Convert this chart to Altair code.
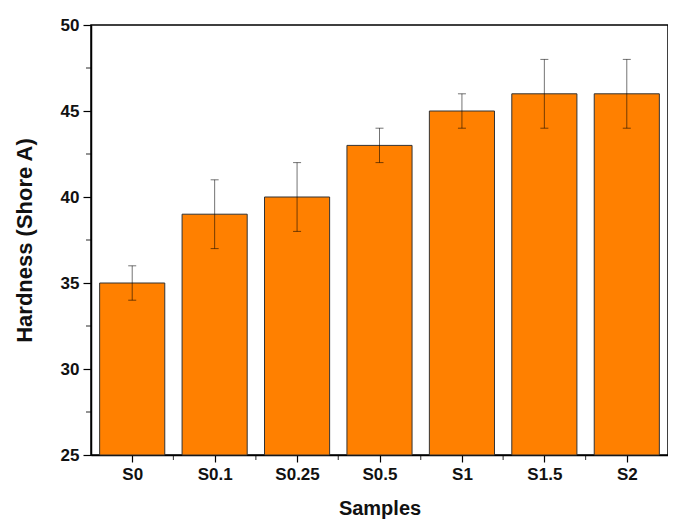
import altair as alt
import pandas as pd

samples = ["S0", "S0.1", "S0.25", "S0.5", "S1", "S1.5", "S2"]
hardness = [35, 39, 40, 43, 45, 46, 46]
errors = [1, 2, 2, 1, 1, 2, 2]
y_major = [25, 30, 35, 40, 45, 50]
y_minor = [27.5, 32.5, 37.5, 42.5, 47.5]

idx = list(range(len(samples)))
df = pd.DataFrame({"i": idx, "sample": samples, "h": hardness, "e": errors})
df_minor_y = pd.DataFrame({"my": y_minor})
df_minor_x = pd.DataFrame({"mx": [i + 0.5 for i in idx[:-1]]})

FONT = "Liberation Sans"
HALF = 0.395

label_expr = "[" + ",".join(f"'{s}'" for s in samples) + "][datum.value]"

xscale = alt.Scale(domain=[-0.5, len(samples) - 0.5], nice=False, zero=False)
yscale = alt.Scale(domain=[25, 50], nice=False, zero=False)

xaxis = alt.Axis(values=idx, labelExpr=label_expr, title="Samples", grid=False,
                 tickSize=7, tickColor="black", tickWidth=1.2, domainColor="black", domainWidth=1.5,
                 labelFont=FONT, labelFontSize=17, labelFontWeight="bold", labelColor="#111",
                 labelPadding=4, titleFont=FONT, titleFontSize=20, titleFontWeight="bold",
                 titleColor="#111", titlePadding=16)
yaxis = alt.Axis(values=y_major, title="Hardness (Shore A)", grid=False,
                 tickSize=8, tickColor="black", tickWidth=1.2, domainColor="black", domainWidth=1.5,
                 labelFont=FONT, labelFontSize=17, labelFontWeight="bold", labelColor="#111",
                 labelPadding=4, titleFont=FONT, titleFontSize=22, titleFontWeight="bold",
                 titleColor="#111", titlePadding=24)

base = alt.Chart(df)

bars = base.transform_calculate(
    x1=f"datum.i - {HALF}", x2=f"datum.i + {HALF}", y0="25"
).mark_bar(color="#FF8000", stroke="#333333", strokeWidth=1).encode(
    x=alt.X("x1:Q", scale=xscale, axis=xaxis),
    x2="x2:Q",
    y=alt.Y("h:Q", scale=yscale, axis=yaxis),
    y2="y0:Q",
)

err = base.transform_calculate(lo="datum.h - datum.e", hi="datum.h + datum.e").mark_rule(
    color="black", opacity=0.55, strokeWidth=1
).encode(x="i:Q", y="lo:Q", y2="hi:Q")

cap_hi = base.transform_calculate(hi="datum.h + datum.e").mark_tick(
    color="black", opacity=0.55, thickness=1, size=8, orient="horizontal"
).encode(x="i:Q", y="hi:Q")
cap_lo = base.transform_calculate(lo="datum.h - datum.e").mark_tick(
    color="black", opacity=0.55, thickness=1, size=8, orient="horizontal"
).encode(x="i:Q", y="lo:Q")

minor_y = alt.Chart(df_minor_y).mark_tick(
    color="black", thickness=1.2, size=5, orient="horizontal"
).encode(y="my:Q", x=alt.value(-2.5))
minor_x = alt.Chart(df_minor_x).mark_tick(
    color="black", thickness=1.2, size=5, orient="vertical"
).encode(x="mx:Q", y=alt.value(432.5))

chart = alt.layer(bars, err, cap_hi, cap_lo, minor_y, minor_x).properties(
    width=577, height=430,
    autosize=alt.AutoSizeParams(type="none"),
    padding={"left": 83, "top": 17, "right": 0, "bottom": 67},
).configure(
    background="white",
    view=alt.ViewConfig(stroke="black", strokeWidth=1.5),
)

chart.save("out.html", embed_options={"renderer": "svg", "actions": False})
